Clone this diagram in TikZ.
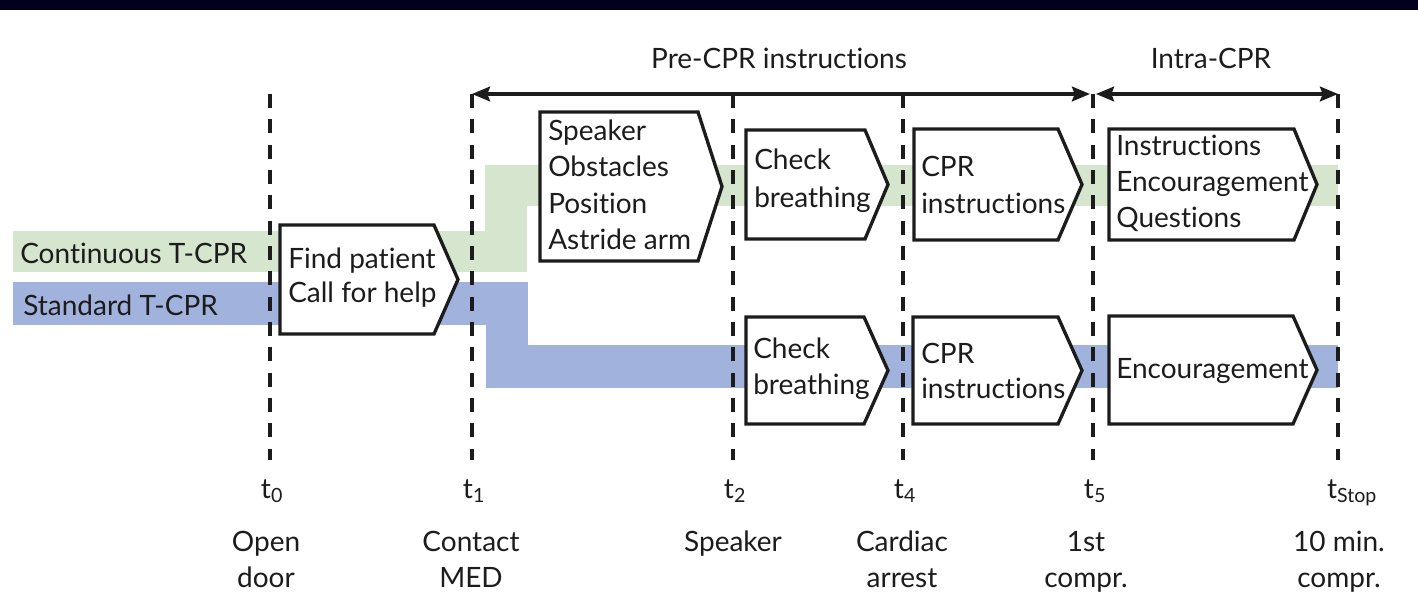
\documentclass[tikz,border=0pt]{standalone}
\usepackage{fontspec}
\setmainfont{Lato}[Ligatures=NoCommon]
\usetikzlibrary{arrows.meta}
\definecolor{topband}{RGB}{0,0,30}
\definecolor{contgreen}{RGB}{214,229,205}
\definecolor{stdblue}{RGB}{161,178,221}
\definecolor{ink}{RGB}{28,28,28}
\tikzset{
  dline/.style={draw=ink, line width=2.3pt, dash pattern=on 10.5pt off 8.5pt},
  pbox/.style={draw=ink, fill=white, line width=2.5pt, line join=miter},
  txt/.style={anchor=base west, inner sep=0pt, text=ink, font=\fontsize{21}{27}\selectfont},
  ctxt/.style={anchor=base, inner sep=0pt, text=ink, font=\fontsize{21}{27}\selectfont},
  spanarrow/.style={draw=ink, line width=2.5pt,
    {Stealth[length=13.5pt,width=11pt,inset=2pt]}-{Stealth[length=13.5pt,width=11pt,inset=2pt]}},
}
\newcommand{\pentpath}[6]{% name x1 x2 x3 y1 y2
  \draw[pbox] (#2,#5) -- (#3,#5) -- (#4,{(#5+#6)/2}) -- (#3,#6) -- (#2,#6) -- cycle;
  \coordinate (#1) at (#2,{(#5+#6)/2});
}
\begin{document}
\begin{tikzpicture}[x=0.75pt,y=-0.75pt]
\useasboundingbox (0,0) rectangle (1418,604);
\fill[white] (0,0) rectangle (1418,604);
\fill[topband] (0,0) rectangle (1418,10);

% bands
\fill[contgreen] (13,231) rectangle (527,272);
\fill[contgreen] (485,165) rectangle (527,272);
\fill[contgreen] (485,165) rectangle (1338,206);
\fill[stdblue] (13,282) rectangle (527,325);
\fill[stdblue] (486,282) rectangle (528,388);
\fill[stdblue] (486,345) rectangle (1338,388);

% time line coordinates
\foreach \n/\x in {0/270,1/472,2/733,4/903,5/1093,S/1338}{
  \coordinate (top\n) at (\x,94);
  \coordinate (bot\n) at (\x,460);
}
\foreach \n in {0,1,2,4,5,S}{ \draw[dline] (top\n) -- (bot\n); }

% span arrows
\coordinate (preL) at (472,94);
\coordinate (preR) at (1090,94);
\coordinate (intL) at (1096,94);
\coordinate (intR) at (1338,94);
\draw[spanarrow] (preL) -- (preR);
\draw[spanarrow] (intL) -- (intR);
\node[ctxt] (preT) at (779,68) {Pre-CPR instructions};
\node[ctxt] (intT) at (1211,68) {Intra-CPR};

% band labels
\node[txt] (contL) at (20,263) {Continuous T-CPR};
\node[txt] (stdL) at (23,315) {Standard T-CPR};

% boxes
\pentpath{bFind}{280}{434}{458}{225}{334}
\node[txt] (f1) at (288,268) {Find patient};
\node[txt] (f2) at (288,302) {Call for help};

\pentpath{bSpk}{540}{698}{722}{112}{261}
\node[txt] (s1) at (548,140) {Speaker};
\node[txt] (s2) at (548,176.5) {Obstacles};
\node[txt] (s3) at (548,213) {Position};
\node[txt] (s4) at (548,249.5) {Astride arm};

\pentpath{bChkT}{746}{865}{888}{130}{239}
\node[txt] (ct1) at (754,169) {Check};
\node[txt] (ct2) at (754,207) {breathing};

\pentpath{bCprT}{914}{1058}{1082}{129}{240}
\node[txt] (pt1) at (921,176) {CPR};
\node[txt] (pt2) at (921,213) {instructions};

\pentpath{bInsT}{1109}{1294}{1317}{129}{240}
\node[txt] (it1) at (1116,155) {Instructions};
\node[txt] (it2) at (1116,191) {Encouragement};
\node[txt] (it3) at (1116,227) {Questions};

\pentpath{bChkB}{746}{864}{888}{317}{424}
\node[txt] (cb1) at (753,358) {Check};
\node[txt] (cb2) at (753,394) {breathing};

\pentpath{bCprB}{913}{1058}{1082}{317}{424}
\node[txt] (pb1) at (921,363) {CPR};
\node[txt] (pb2) at (921,398) {instructions};

\pentpath{bEncB}{1109}{1293}{1317}{316}{424}
\node[txt] (eb1) at (1116,378) {Encouragement};

% time labels
\node[ctxt] (t0) at (272,498) {t\textsubscript{0}};
\node[ctxt] (t1) at (474,498) {t\textsubscript{1}};
\node[ctxt] (t2) at (735,498) {t\textsubscript{2}};
\node[ctxt] (t4) at (905,498) {t\textsubscript{4}};
\node[ctxt] (t5) at (1095,498) {t\textsubscript{5}};
\node[ctxt] (tS) at (1352,498) {t\textsubscript{Stop}};

% event labels
\node[ctxt] (e0a) at (266,551) {Open};
\node[ctxt] (e0b) at (266,587) {door};
\node[ctxt] (e1a) at (471,551) {Contact};
\node[ctxt] (e1b) at (471,587) {MED};
\node[ctxt] (e2a) at (733,551) {Speaker};
\node[ctxt] (e4a) at (902,551) {Cardiac};
\node[ctxt] (e4b) at (902,587) {arrest};
\node[ctxt] (e5a) at (1086,551) {1st};
\node[ctxt] (e5b) at (1086,587) {compr.};
\node[ctxt] (eSa) at (1339,551) {10 min.};
\node[ctxt] (eSb) at (1339,587) {compr.};
\end{tikzpicture}
\end{document}
